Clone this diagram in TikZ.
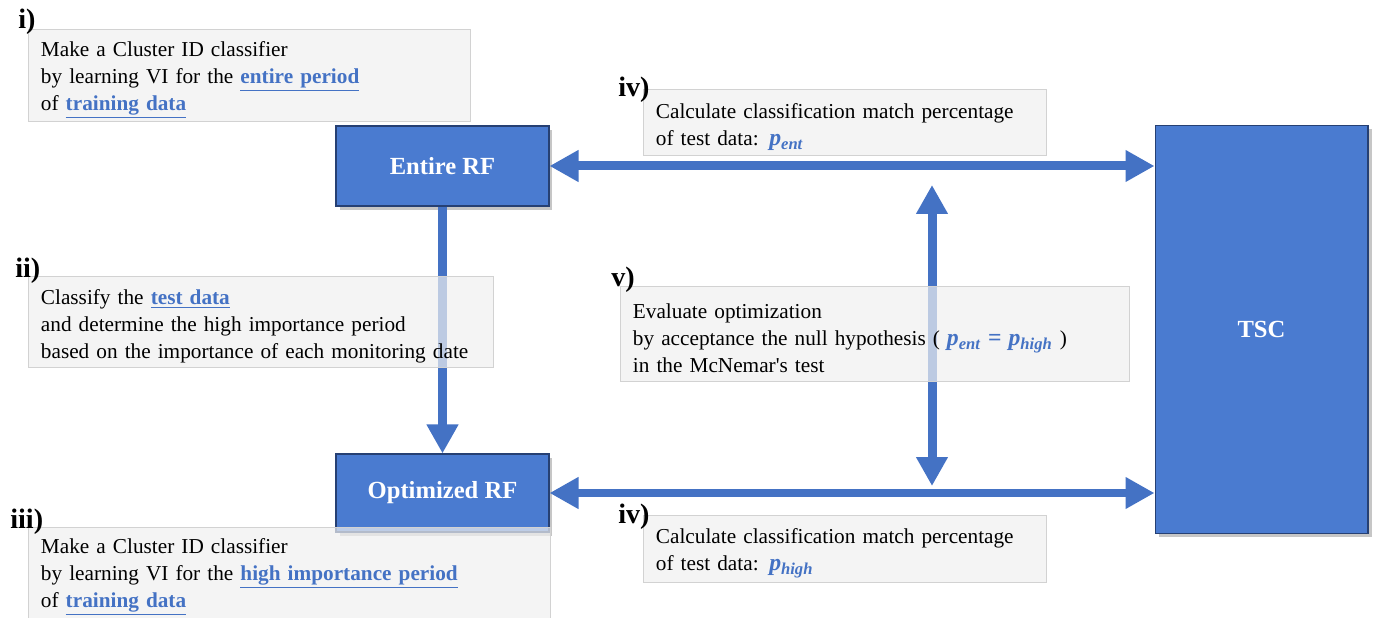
\documentclass[tikz,border=0pt]{standalone}
\usepackage{fontspec}
\setmainfont{Liberation Serif}
\usetikzlibrary{arrows.meta,shadows}

\definecolor{rfblue}{RGB}{74,123,208}
\definecolor{rfdark}{RGB}{38,64,115}
\definecolor{linkblue}{RGB}{68,114,196}
\definecolor{notegray}{RGB}{240,240,240}
\definecolor{noteline}{RGB}{210,210,210}

\newcommand{\linktext}[1]{\textcolor{linkblue}{\underline{\textbf{#1}}}}
\newcommand{\pval}[1]{\textcolor{linkblue}{{\fontsize{13.5}{15}\selectfont\bfseries\itshape p\textsubscript{#1}}}}

\begin{document}
\begin{tikzpicture}[x=0.02cm, y=-0.02cm,
bluenode/.style={rectangle, fill=rfblue, draw=rfdark, line width=0.6pt, text=white, font=\fontsize{14}{16}\selectfont\bfseries, drop shadow={shadow xshift=2pt, shadow yshift=-2pt, opacity=0.45}},
notenode/.style={rectangle, anchor=north west, fill=notegray, fill opacity=0.7, text opacity=1, draw=noteline, line width=0.5pt, align=left, inner xsep=0.25cm, inner ysep=1pt, font=\fontsize{12.1}{15.3}\selectfont, execute at begin node={\rule{0pt}{13.5pt}}},
steplabel/.style={anchor=base west, inner sep=0pt, font=\fontsize{16}{18}\selectfont\bfseries},
bigarrow/.style={draw=linkblue, line width=0.18cm, arrows={Triangle[length=0.58cm,width=0.6cm]-Triangle[length=0.58cm,width=0.6cm]}},
downarrow/.style={draw=linkblue, line width=0.18cm, arrows={-Triangle[length=0.58cm,width=0.6cm]}}
]
    \useasboundingbox (0,0) rectangle (1374,618);

    \node[bluenode, minimum width=4.26cm, minimum height=1.6cm] (er) at (442.5,166){Entire RF};
    \node[bluenode, minimum width=4.26cm, minimum height=1.56cm] (opt) at (442.5,493){Optimized RF};
    \node[bluenode, minimum width=4.26cm, minimum height=8.18cm] (tsc) at (1261.5,329.5){TSC};

    \coordinate (vtop) at (932,185);
    \coordinate (vbot) at (932,486);

    \draw[bigarrow] (er.east) -- (er.east -| tsc.west);
    \draw[bigarrow] (opt.east) -- (opt.east -| tsc.west);
    \draw[downarrow] (er) -- (opt);
    \draw[bigarrow] (vtop) -- (vbot);

    \node[notenode, text width=8.34cm, minimum height=1.84cm] (ti) at (28,29){Make a Cluster ID classifier\\by learning VI for the \linktext{entire period}\\of \linktext{training data}};
    \node[notenode, text width=8.8cm, minimum height=1.82cm] (tii) at (28,276){Classify the \linktext{test data}\\and determine the high importance period\\based on the importance of each monitoring date};
    \node[notenode, text width=9.94cm, minimum height=1.82cm] (tiii) at (28,527){Make a Cluster ID classifier\\by learning VI for the \linktext{high importance period}\\of \linktext{training data}};
    \node[notenode, text width=7.56cm, minimum height=1.32cm] (tiva) at (643,89){Calculate classification match percentage\\of test data: \pval{ent}};
    \node[notenode, text width=9.68cm, minimum height=1.9cm] (tv) at (620,286){Evaluate optimization\\by acceptance the null hypothesis ( \textcolor{linkblue}{{\fontsize{13.5}{15}\selectfont\bfseries\itshape p\textsubscript{ent} {\upshape=} p\textsubscript{high}}} )\\in the McNemar\textquotesingle s test};
    \node[notenode, text width=7.56cm, minimum height=1.34cm] (tivb) at (643,515){Calculate classification match percentage\\of test data: \pval{high}};

    \node[steplabel] (li) at (18,29){i)};
    \node[steplabel] (lii) at (15,278){ii)};
    \node[steplabel] (liii) at (10,528){iii)};
    \node[steplabel] (liva) at (618,97){iv)};
    \node[steplabel] (lv) at (611,287){v)};
    \node[steplabel] (livb) at (618,523){iv)};
\end{tikzpicture}
\end{document}
